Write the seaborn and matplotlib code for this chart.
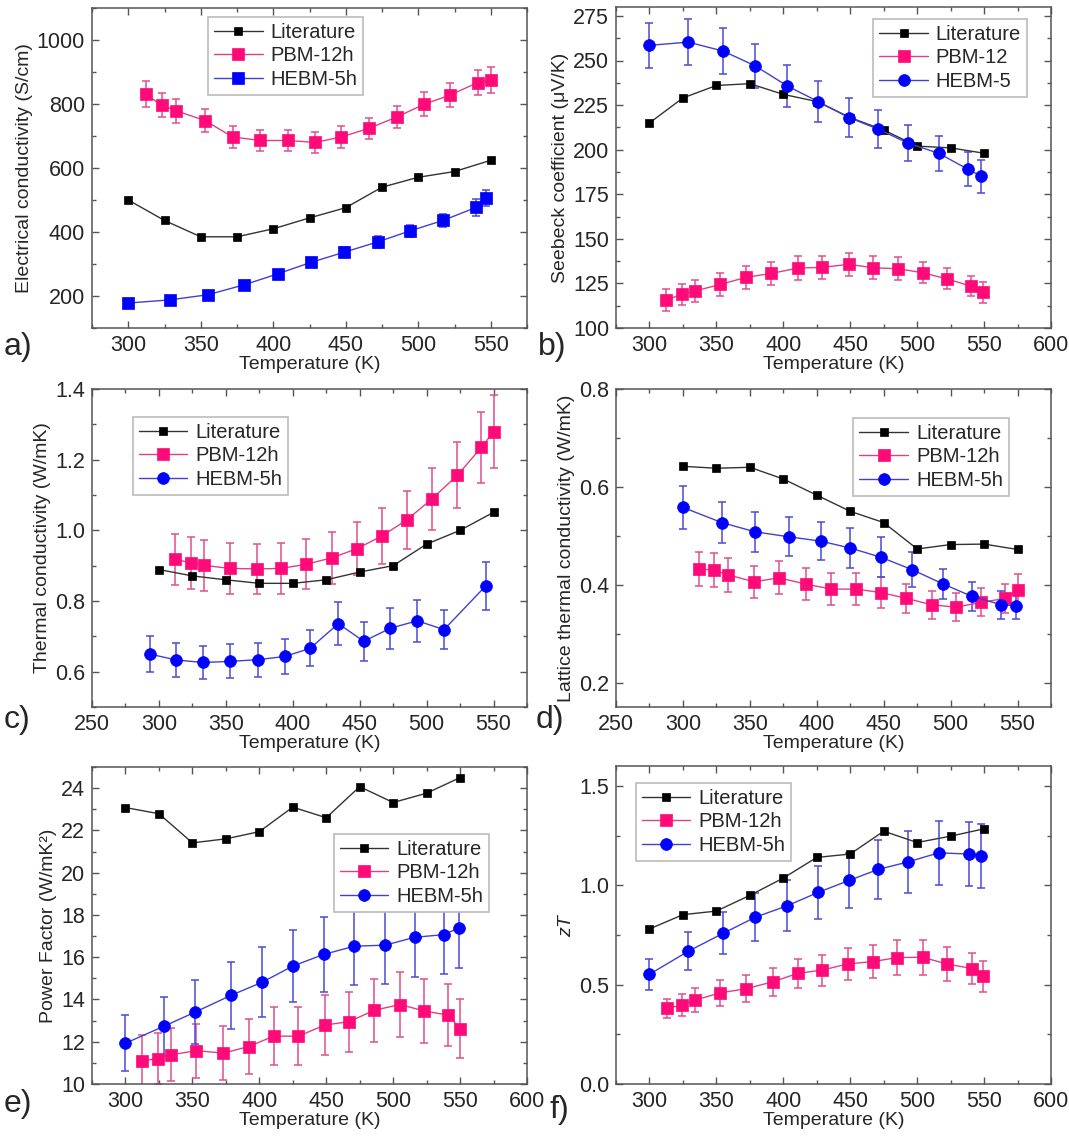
import matplotlib
matplotlib.use("Agg")
import matplotlib.pyplot as plt
import seaborn as sns
import numpy as np
import pandas as pd
from matplotlib.ticker import MultipleLocator

# ---------------- data ----------------
lit_T = [300, 325, 350, 375, 400, 425, 450, 475, 500, 525, 550]

# a) electrical conductivity
a_lit = [500, 436, 385, 385, 410, 444, 476, 540, 571, 589, 624]
a_pbm_T = [312, 323, 333, 353, 372, 391, 410, 429, 447, 466, 485, 504, 522, 541, 550]
a_pbm = [831, 796, 779, 748, 697, 686, 686, 680, 697, 724, 759, 799, 828, 867, 875]
a_pbm_err = [40, 38, 37, 36, 33, 33, 32, 32, 33, 33, 35, 37, 38, 40, 42]
a_hebm_T = [300, 329, 355, 380, 403, 426, 449, 472, 494, 517, 540, 547]
a_hebm = [178, 188, 204, 235, 269, 305, 337, 369, 403, 436, 477, 505]
a_hebm_err = [6, 7, 8, 9, 10, 13, 15, 19, 18, 21, 26, 25]

# b) Seebeck coefficient
b_lit = [215, 229, 236, 237, 231, 227, 218, 211, 202, 201, 198]
b_pbm_T = [312, 324, 334, 353, 372, 391, 411, 429, 449, 467, 486, 504, 522, 540, 549]
b_pbm = [115.6, 118.8, 120.8, 124.4, 128.4, 130.6, 133.6, 134, 135.7, 133.8, 133.2, 131, 127.6, 123.5, 120]
b_pbm_err = [6, 6, 6, 6.5, 6.5, 6.5, 6.5, 6.5, 6.5, 6.5, 6.5, 6, 6, 5.5, 6]
b_hebm_T = [300, 329, 355, 379, 403, 426, 449, 471, 493, 516, 538, 548]
b_hebm = [258.5, 260.3, 255.3, 247, 235.7, 227, 218, 211.5, 203.7, 198, 189, 185]
b_hebm_err = [12.8, 12.8, 12.8, 12.5, 11.8, 11.5, 11, 10.5, 10, 9.8, 9.5, 9.2]

# c) thermal conductivity
c_lit = [0.889, 0.871, 0.860, 0.850, 0.850, 0.860, 0.882, 0.900, 0.961, 1.000, 1.051]
c_pbm_T = [312, 324, 334, 353, 373, 391, 410, 429, 448, 467, 485, 504, 523, 541, 550]
c_pbm = [0.918, 0.908, 0.901, 0.892, 0.891, 0.892, 0.904, 0.922, 0.948, 0.985, 1.029, 1.089, 1.156, 1.235, 1.279]
c_pbm_err = [0.073, 0.073, 0.072, 0.071, 0.071, 0.071, 0.071, 0.074, 0.075, 0.079, 0.081, 0.087, 0.093, 0.100, 0.103]
c_hebm_T = [293, 313, 333, 353, 374, 394, 413, 434, 453, 473, 493, 513, 544]
c_hebm = [0.650, 0.633, 0.626, 0.629, 0.634, 0.643, 0.666, 0.736, 0.686, 0.723, 0.744, 0.719, 0.842]
c_hebm_err = [0.052, 0.048, 0.048, 0.048, 0.048, 0.049, 0.051, 0.060, 0.055, 0.058, 0.060, 0.056, 0.068]

# d) lattice thermal conductivity
d_lit = [0.642, 0.638, 0.640, 0.616, 0.583, 0.550, 0.527, 0.473, 0.482, 0.483, 0.472]
d_pbm_T = [312, 323, 334, 353, 372, 392, 411, 429, 448, 467, 486, 504, 523, 541, 550]
d_pbm = [0.432, 0.430, 0.420, 0.406, 0.414, 0.401, 0.391, 0.391, 0.384, 0.372, 0.359, 0.354, 0.364, 0.372, 0.389]
d_pbm_err = [0.035, 0.034, 0.034, 0.033, 0.034, 0.033, 0.032, 0.032, 0.032, 0.030, 0.029, 0.028, 0.029, 0.029, 0.032]
d_hebm_T = [300, 329, 354, 379, 403, 425, 448, 471, 494, 516, 538, 549]
d_hebm = [0.558, 0.527, 0.508, 0.498, 0.489, 0.475, 0.456, 0.431, 0.402, 0.376, 0.359, 0.357]
d_hebm_err = [0.044, 0.042, 0.041, 0.040, 0.039, 0.040, 0.041, 0.036, 0.031, 0.030, 0.029, 0.027]

# e) power factor
e_lit = [23.08, 22.79, 21.41, 21.6, 21.94, 23.1, 22.6, 24.07, 23.32, 23.76, 24.5]
e_pbm_T = [312, 324, 334, 353, 373, 392, 411, 429, 449, 467, 486, 505, 523, 541, 550]
e_pbm = [11.11, 11.19, 11.38, 11.58, 11.46, 11.77, 12.27, 12.26, 12.79, 12.95, 13.49, 13.76, 13.46, 13.26, 12.62]
e_pbm_err = [1.2, 1.2, 1.25, 1.28, 1.28, 1.3, 1.38, 1.38, 1.42, 1.42, 1.5, 1.53, 1.5, 1.48, 1.4]
e_hebm_T = [300, 329, 352, 379, 402, 425, 448, 471, 494, 516, 538, 549]
e_hebm = [11.93, 12.74, 13.4, 14.2, 14.81, 15.58, 16.13, 16.52, 16.57, 16.94, 17.07, 17.38]
e_hebm_err = [1.33, 1.4, 1.5, 1.58, 1.65, 1.72, 1.78, 1.83, 1.83, 1.9, 1.87, 1.9]

# f) zT
f_lit = [0.780, 0.852, 0.870, 0.949, 1.036, 1.140, 1.157, 1.272, 1.215, 1.247, 1.284]
f_pbm_T = [313, 324, 334, 353, 372, 392, 411, 429, 448, 467, 485, 504, 522, 541, 549]
f_pbm = [0.380, 0.397, 0.422, 0.459, 0.479, 0.514, 0.557, 0.573, 0.604, 0.616, 0.636, 0.638, 0.604, 0.581, 0.541]
f_pbm_err = [0.05, 0.055, 0.06, 0.065, 0.068, 0.07, 0.072, 0.078, 0.08, 0.082, 0.088, 0.088, 0.085, 0.08, 0.077]
f_hebm_T = [300, 329, 355, 379, 403, 426, 449, 471, 493, 516, 539, 548]
f_hebm = [0.552, 0.668, 0.758, 0.839, 0.897, 0.964, 1.024, 1.080, 1.117, 1.163, 1.157, 1.147]
f_hebm_err = [0.078, 0.095, 0.106, 0.12, 0.127, 0.134, 0.14, 0.15, 0.156, 0.16, 0.163, 0.163]

# ---------------- style ----------------
sns.set_theme(style="ticks")
plt.rcParams['font.family'] = ['Liberation Sans', 'DejaVu Sans']
plt.rcParams['mathtext.fontset'] = 'custom'
plt.rcParams['mathtext.it'] = 'Liberation Sans:italic'

BLACK = "#000000"
LIT_LINE = "#333333"
PINK = "#FF0A78"
PINK_LINE = "#E0407F"
PINK_ERR = "#E0508A"
BLUE = "#0000FF"
BLUE_LINE = "#4040D0"
BLUE_ERR = "#4A4AD8"
FRAME = "#555555"

W, H = 1069, 1140
fig = plt.figure(figsize=(W / 100, H / 100), dpi=100)


def make_ax(l, r, t, b):
    return fig.add_axes([l / W, 1 - b / H, (r - l) / W, (b - t) / H])


def series(ax, T, v, err, color, lcolor, ecolor, marker, ms, label):
    if err is not None:
        ax.errorbar(T, v, yerr=err, fmt='none', ecolor=ecolor, elinewidth=1.1,
                    capsize=3.2, capthick=1.1, zorder=2)
    sns.lineplot(x=T, y=v, ax=ax, sort=False, estimator=None, color=lcolor,
                 linewidth=1.0, marker=marker, markersize=ms,
                 markerfacecolor=color, markeredgecolor=color,
                 markeredgewidth=0.5, label=label, legend=False, zorder=3)


def style(ax, xlim, xmaj, ylim, ymaj, ymin, ylabel):
    ax.set_xlim(*xlim)
    ax.set_ylim(*ylim)
    ax.xaxis.set_major_locator(MultipleLocator(xmaj))
    ax.xaxis.set_minor_locator(MultipleLocator(25))
    ax.yaxis.set_major_locator(MultipleLocator(ymaj))
    ax.yaxis.set_minor_locator(MultipleLocator(ymin))
    ax.tick_params(which='both', direction='in', top=True, right=True,
                   color=FRAME, labelsize=15.5, pad=5)
    ax.tick_params(which='major', length=5, width=1)
    ax.tick_params(which='minor', length=3, width=1)
    for s in ax.spines.values():
        s.set_color(FRAME)
        s.set_linewidth(1.1)
    ax.set_xlabel("Temperature (K)", fontsize=14, labelpad=0)
    ax.set_ylabel(ylabel, fontsize=14, labelpad=3)


def legend(ax, loc, anchor):
    h, l = ax.get_legend_handles_labels()
    leg = ax.legend(h, l, loc=loc, bbox_to_anchor=anchor, fontsize=14.5,
                    frameon=True, fancybox=False, edgecolor="#BBBBBB",
                    framealpha=1, borderaxespad=0, handlelength=2.4,
                    handletextpad=0.4, labelspacing=0.22, borderpad=0.3)
    leg.get_frame().set_linewidth(1.2)


# a)
ax = make_ax(92, 527, 8, 328)
series(ax, lit_T, a_lit, None, BLACK, LIT_LINE, None, 's', 6, "Literature")
series(ax, a_pbm_T, a_pbm, a_pbm_err, PINK, PINK_LINE, PINK_ERR, 's', 8, "PBM-12h")
series(ax, a_hebm_T, a_hebm, a_hebm_err, BLUE, BLUE_LINE, BLUE_ERR, 's', 8, "HEBM-5h")
style(ax, (275, 575), 50, (100, 1100), 200, 100, "Electrical conductivity (S/cm)")
legend(ax, 'upper left', (0.267, 0.972))

# b)
ax = make_ax(616, 1051, 7, 328)
series(ax, lit_T, b_lit, None, BLACK, LIT_LINE, None, 's', 6, "Literature")
series(ax, b_pbm_T, b_pbm, b_pbm_err, PINK, PINK_LINE, PINK_ERR, 's', 8, "PBM-12")
series(ax, b_hebm_T, b_hebm, b_hebm_err, BLUE, BLUE_LINE, BLUE_ERR, 'o', 8.5, "HEBM-5")
style(ax, (275, 600), 50, (100, 280), 25, 12.5, "Seebeck coefficient (\u03bcV/K)")
legend(ax, 'upper right', (0.945, 0.963))

# c)
ax = make_ax(92, 527, 389, 707)
series(ax, lit_T, c_lit, None, BLACK, LIT_LINE, None, 's', 6, "Literature")
series(ax, c_pbm_T, c_pbm, c_pbm_err, PINK, PINK_LINE, PINK_ERR, 's', 8, "PBM-12h")
series(ax, c_hebm_T, c_hebm, c_hebm_err, BLUE, BLUE_LINE, BLUE_ERR, 'o', 8.5, "HEBM-5h")
style(ax, (250, 575), 50, (0.5, 1.4), 0.2, 0.1, "Thermal conductivity (W/mK)")
legend(ax, 'upper left', (0.094, 0.912))

# d)
ax = make_ax(616, 1051, 389, 707)
series(ax, lit_T, d_lit, None, BLACK, LIT_LINE, None, 's', 6, "Literature")
series(ax, d_pbm_T, d_pbm, d_pbm_err, PINK, PINK_LINE, PINK_ERR, 's', 8, "PBM-12h")
series(ax, d_hebm_T, d_hebm, d_hebm_err, BLUE, BLUE_LINE, BLUE_ERR, 'o', 8.5, "HEBM-5h")
style(ax, (250, 575), 50, (0.15, 0.8), 0.2, 0.1, "Lattice thermal conductivity (W/mK)")
legend(ax, 'upper right', (0.903, 0.909))

# e)
ax = make_ax(92, 527, 767, 1084)
series(ax, lit_T, e_lit, None, BLACK, LIT_LINE, None, 's', 6, "Literature")
series(ax, e_pbm_T, e_pbm, e_pbm_err, PINK, PINK_LINE, PINK_ERR, 's', 8, "PBM-12h")
series(ax, e_hebm_T, e_hebm, e_hebm_err, BLUE, BLUE_LINE, BLUE_ERR, 'o', 8.5, "HEBM-5h")
style(ax, (275, 600), 50, (10, 25), 2, 1, "Power Factor (W/mK\u00b2)")
legend(ax, 'upper left', (0.556, 0.789))

# f)
ax = make_ax(616, 1051, 766, 1084)
series(ax, lit_T, f_lit, None, BLACK, LIT_LINE, None, 's', 6, "Literature")
series(ax, f_pbm_T, f_pbm, f_pbm_err, PINK, PINK_LINE, PINK_ERR, 's', 8, "PBM-12h")
series(ax, f_hebm_T, f_hebm, f_hebm_err, BLUE, BLUE_LINE, BLUE_ERR, 'o', 8.5, "HEBM-5h")
style(ax, (275, 600), 50, (0.0, 1.6), 0.5, 0.25, "$zT$")
legend(ax, 'upper left', (0.046, 0.947))

# panel letters
for txt, x, y in [("a)", 4, 347), ("b)", 538, 347), ("c)", 4, 720),
                  ("d)", 536, 720), ("e)", 4, 1104), ("f)", 550, 1110)]:
    fig.text(x / W, 1 - y / H, txt, fontsize=23, ha='left', va='center')

fig.savefig("out.png", dpi=100)
